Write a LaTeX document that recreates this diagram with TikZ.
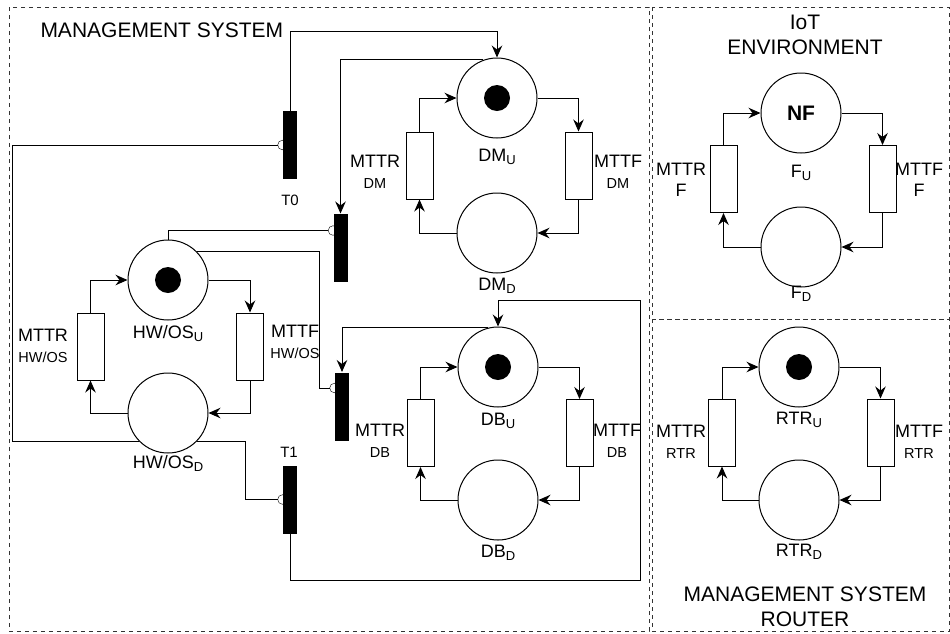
\documentclass[tikz,border=0pt]{standalone}
\usepackage{fontspec}
\setmainfont{Liberation Sans}
\usepackage{tikz}
\usetikzlibrary{arrows.meta, positioning, backgrounds, calc}

\newcommand{\lowsub}[1]{\raisebox{-3.5pt}{\fontsize{13}{13}\selectfont #1}}
\newcommand{\ratefont}{\fontsize{14.5}{16}\selectfont}

\begin{document}
\begin{tikzpicture}[x=1pt, y=-1pt, line width=1pt,
  place/.style={circle, draw, fill=white, minimum size=80pt, inner sep=0pt},
  marked/.style={path picture={\fill[black] (path picture bounding box.center) circle (13pt);}},
  timed/.style={rectangle, draw, fill=white, minimum width=27pt, minimum height=67pt, inner sep=0pt},
  trans/.style={rectangle, fill=black, minimum width=14pt, minimum height=68pt, inner sep=0pt},
  arc/.style={-{Stealth[length=12pt, width=10.5pt, inset=4pt]}},
  inhib/.style={-{Circle[open, length=10pt]}},
  frame/.style={draw=black!80, line width=0.9pt, dash pattern=on 4pt off 4pt},
  head/.style={font=\fontsize{21}{25}\selectfont, align=center, inner sep=0pt},
  pname/.style={font=\fontsize{18}{21}\selectfont, anchor=base, inner sep=0pt},
  rate/.style={font=\fontsize{18}{21}\selectfont, align=center, inner sep=0pt},
  tname/.style={font=\fontsize{15}{17}\selectfont, inner sep=0pt}
]
\useasboundingbox (0,0) rectangle (950,633);

% Frames
\draw[frame] (9,7) rectangle (649,631);
\draw[frame] (652,7) rectangle (949.5,319);
\draw[frame] (652,319) rectangle (949.5,631);

% Headings
\node[head, anchor=west] (mshead) at (40,30) {MANAGEMENT SYSTEM};
\node[head] (iothead) at (805,34.5) {IoT\\ENVIRONMENT};
\node[head] (rthead) at (805,607) {MANAGEMENT SYSTEM\\ROUTER};

% DM
\node[place, marked] (dmU) at (497,98) {};
\node[place] (dmD) at (497,233) {};
\node[timed] (dmR) at (419.5,165.5) {};
\node[timed] (dmF) at (578.5,165.5) {};
\node[pname] (dmUl) at ($(dmU)+(0,63)$) {DM\lowsub{U}};
\node[pname] (dmDl) at ($(dmD)+(0,57)$) {DM\lowsub{D}};
\node[rate] (dmRl) at (375,172) {MTTR\\{\ratefont DM}};
\node[rate] (dmFl) at (618,172) {MTTF\\{\ratefont DM}};
\draw[arc] (dmU.east) -| (dmF.north);
\draw[arc] (dmF.south) |- (dmD.east);
\draw[arc] (dmD.west) -| (dmR.south);
\draw[arc] (dmR.north) |- (dmU.west);

% HW/OS
\node[place, marked] (hwU) at (168,280) {};
\node[place] (hwD) at (168,413) {};
\node[timed] (hwR) at (90.5,346.5) {};
\node[timed] (hwF) at (250,346.5) {};
\node[pname] (hwUl) at ($(hwU)+(0,58)$) {HW/OS\lowsub{U}};
\node[pname] (hwDl) at ($(hwD)+(0,55)$) {HW/OS\lowsub{D}};
\node[rate] (hwRl) at (43,346) {MTTR\\{\ratefont HW/OS}};
\node[rate] (hwFl) at (295,342) {MTTF\\{\ratefont HW/OS}};
\draw[arc] (hwU.east) -| (hwF.north);
\draw[arc] (hwF.south) |- (hwD.east);
\draw[arc] (hwD.west) -| (hwR.south);
\draw[arc] (hwR.north) |- (hwU.west);

% DB
\node[place, marked] (dbU) at (498,367) {};
\node[place] (dbD) at (498,500) {};
\node[timed] (dbR) at (420.5,433) {};
\node[timed] (dbF) at (579.5,433) {};
\node[pname] (dbUl) at ($(dbU)+(0,58)$) {DB\lowsub{U}};
\node[pname] (dbDl) at ($(dbD)+(0,57)$) {DB\lowsub{D}};
\node[rate] (dbRl) at (380,441) {MTTR\\{\ratefont DB}};
\node[rate] (dbFl) at (617,441) {MTTF\\{\ratefont DB}};
\draw[arc] (dbU.east) -| (dbF.north);
\draw[arc] (dbF.south) |- (dbD.east);
\draw[arc] (dbD.west) -| (dbR.south);
\draw[arc] (dbR.north) |- (dbU.west);

% F
\node[place, font=\fontsize{21}{21}\selectfont\bfseries] (fU) at (801,113) {NF};
\node[place] (fD) at (801,247) {};
\node[timed] (fR) at (723.5,179) {};
\node[timed] (fF) at (882.5,179) {};
\node[pname] (fUl) at ($(fU)+(0,64)$) {F\lowsub{U}};
\node[pname] (fDl) at ($(fD)+(0,51)$) {F\lowsub{D}};
\node[rate] (fRl) at (681,180) {MTTR\\F};
\node[rate] (fFl) at (919,180) {MTTF\\F};
\draw[arc] (fU.east) -| (fF.north);
\draw[arc] (fF.south) |- (fD.east);
\draw[arc] (fD.west) -| (fR.south);
\draw[arc] (fR.north) |- (fU.west);

% RTR
\node[place, marked] (rtU) at (799,367) {};
\node[place] (rtD) at (799,500) {};
\node[timed] (rtR) at (722,432.5) {};
\node[timed] (rtF) at (880.5,432.5) {};
\node[pname] (rtUl) at ($(rtU)+(0,57)$) {RTR\lowsub{U}};
\node[pname] (rtDl) at ($(rtD)+(0,56)$) {RTR\lowsub{D}};
\node[rate] (rtRl) at (681,442) {MTTR\\{\ratefont RTR}};
\node[rate] (rtFl) at (919,442) {MTTF\\{\ratefont RTR}};
\draw[arc] (rtU.east) -| (rtF.north);
\draw[arc] (rtF.south) |- (rtD.east);
\draw[arc] (rtD.west) -| (rtR.south);
\draw[arc] (rtR.north) |- (rtU.west);

% Transitions
\node[trans] (t0) at (290,145) {};
\node[trans] (t2) at (340.5,248) {};
\node[trans] (t3) at (342,406.5) {};
\node[trans] (t1) at (290,499.5) {};
\node[tname] (t0l) at (290,200) {T0};
\node[tname] (t1l) at (289,452) {T1};

% Arcs between subnets
\draw[arc] (t0.north) -- ++(0,-79) -| (dmU.north);
\draw[arc] (dmU.110) -| (t2.north);
\draw[arc] (dbU.105) -| (t3.north);
\draw[arc] (t1.south) -- ++(0,46) -| ++(350,-280) -| (dbU.north);

% Inhibitor arcs
\begin{scope}[on background layer]
\draw[inhib] (hwD.225) -- ++(-127,0) |- ($(t0.west)+(5,0)$);
\draw[inhib] (hwU.north) |- ($(t2.north west)+(5,17)$);
\draw[inhib] (hwU.45) -- ++(123,0) |- ($(t3.north west)+(5,16)$);
\draw[inhib] (hwD.-45) -- ++(49,0) |- ($(t1.west)+(5,0)$);
\end{scope}

\end{tikzpicture}
\end{document}
